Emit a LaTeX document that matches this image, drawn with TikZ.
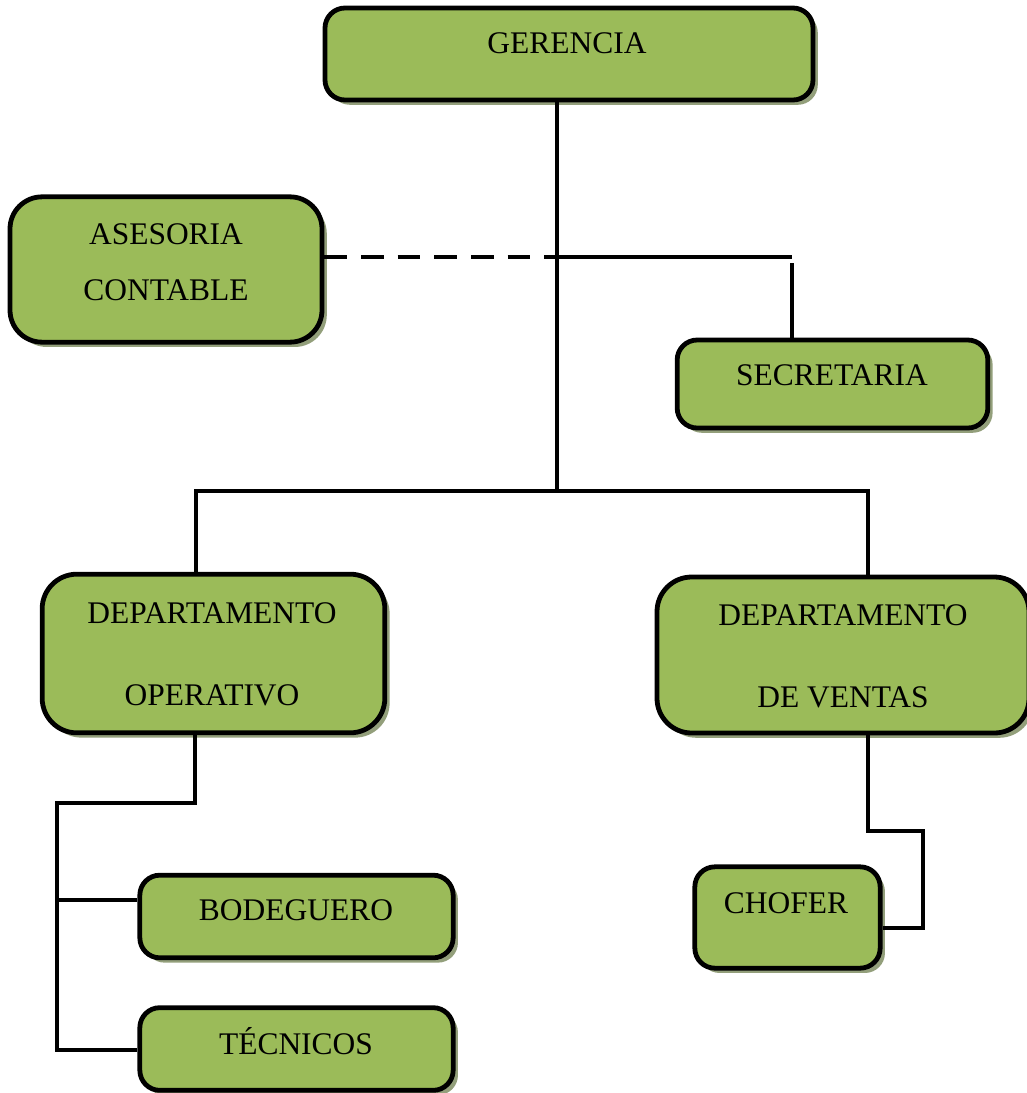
\documentclass[tikz,border=0pt]{standalone}
\usepackage{fontspec}
\setmainfont{Liberation Serif}
\usetikzlibrary{shadows}
\definecolor{boxgreen}{HTML}{9BBB59}
\definecolor{boxshadow}{HTML}{939F7B}
\begin{document}
\begin{tikzpicture}[x=0.75pt,y=-0.75pt,
  unit/.style={draw=black, line width=3.6pt, fill=boxgreen, rectangle,
    inner sep=0pt, rounded corners=15pt,
    drop shadow={shadow xshift=3.6pt, shadow yshift=-3.6pt, fill=boxshadow, opacity=1}},
  caption/.style={anchor=base, inner sep=0pt, font=\fontsize{23.6}{28}\selectfont},
  conn/.style={draw=black, line width=3pt}]
\useasboundingbox (0,0) rectangle (1027,1093);

% organisational units
\node[unit, minimum width=366pt, minimum height=69pt] (ger) at (569,54) {};
\node[unit, rounded corners=24pt, minimum width=234pt, minimum height=109pt] (ase) at (166,269.5) {};
\node[unit, minimum width=233pt, minimum height=66pt] (sec) at (832.5,384) {};
\node[unit, rounded corners=26pt, minimum width=257pt, minimum height=119pt] (dop) at (213.5,653.5) {};
\node[unit, rounded corners=26pt, minimum width=279pt, minimum height=117pt] (dve) at (843,655) {};
\node[unit, minimum width=235pt, minimum height=62pt] (bod) at (296.5,916.5) {};
\node[unit, minimum width=235pt, minimum height=62pt] (tec) at (296.5,1049) {};
\node[unit, minimum width=139pt, minimum height=76pt] (cho) at (787.5,917.5) {};

% labels
\node[caption] (tger) at (567,53) {GERENCIA};
\node[caption] (tase1) at (166,244) {ASESORIA};
\node[caption] (tase2) at (166,300) {CONTABLE};
\node[caption] (tsec) at (832,385) {SECRETARIA};
\node[caption] (tdop1) at (212,623) {DEPARTAMENTO};
\node[caption] (tdop2) at (212,705) {OPERATIVO};
\node[caption] (tdve1) at (843,625) {DEPARTAMENTO};
\node[caption] (tdve2) at (843,707) {DE VENTAS};
\node[caption] (tbod) at (296,920) {BODEGUERO};
\node[caption] (ttec) at (296,1054) {TÉCNICOS};
\node[caption] (tcho) at (786,913) {CHOFER};

% junction points
\coordinate (staff) at (557,257);
\coordinate (trunk) at (557,491);
\coordinate (secx) at (792,257);
\coordinate (secdrop) at (792,263);
\coordinate (left) at (196,491);
\coordinate (right) at (868,491);
\coordinate (opstep) at (195,803);
\coordinate (oprail) at (57,803);
\coordinate (bodj) at (57,900);
\coordinate (tecj) at (57,1050);
\coordinate (vstep) at (868,831);
\coordinate (vrail) at (923,831);
\coordinate (vend) at (923,928);

% connectors
\draw[conn] (staff |- ger.south) -- (trunk);
\draw[conn, dash pattern=on 17pt off 10.5pt] (ase.east |- staff) -- (staff);
\draw[conn] (staff) -- (secx);
\draw[conn] (secdrop) -- (secdrop |- sec.north);
\draw[conn] (left |- dop.north) -- (left) -- (right) -- (right |- dve.north);
\draw[conn] (opstep |- dop.south) -- (opstep) -- (oprail) -- (tecj) -- (tecj -| tec.west);
\draw[conn] (bodj) -- (bodj -| bod.west);
\draw[conn] (vstep |- dve.south) -- (vstep) -- (vrail) -- (vend) -- (vend -| cho.east);
\end{tikzpicture}
\end{document}
